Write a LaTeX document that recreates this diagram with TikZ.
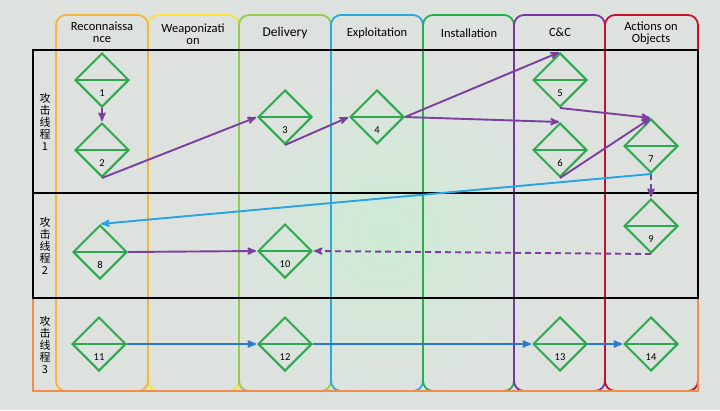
\documentclass[tikz,border=0pt]{standalone}
\usepackage{fontspec}
\newfontfamily\headfont{Carlito}
\newfontfamily\cjk{Noto Sans CJK SC}
\usetikzlibrary{shapes.geometric, positioning, arrows}
\definecolor{bgcol}{HTML}{DEE2DF}
\definecolor{glowcol}{HTML}{CDEBD4}
\definecolor{reccol}{HTML}{F5B63A}
\definecolor{weapcol}{HTML}{F6E43C}
\definecolor{delcol}{HTML}{93CD4F}
\definecolor{expcol}{HTML}{27A9E1}
\definecolor{instcol}{HTML}{23B04D}
\definecolor{cnccol}{HTML}{7A35A4}
\definecolor{actcol}{HTML}{C8102E}
\definecolor{row3col}{HTML}{F28C4E}
\definecolor{diacol}{HTML}{2EA84E}
\definecolor{flowpurple}{HTML}{7B3FA0}
\definecolor{flowsky}{HTML}{2AA3E6}
\definecolor{flowblue}{HTML}{2A78CF}

\begin{document}
\begin{tikzpicture}[x=1pt,y=-1pt,>=stealth',node distance=70pt,on grid,
    lane/.style={line width=1.8pt,rounded corners=10pt},
    head/.style={font=\headfont\fontsize{12.5}{12.5}\selectfont,align=center,inner sep=0pt},
    thread/.style={font=\cjk\fontsize{11}{12}\selectfont,align=center,inner sep=0pt},
    numtxt/.style={font=\headfont\fontsize{10.5}{11}\selectfont,yshift=-13pt,inner sep=0pt},
    phase/.style={diamond,draw=diacol,line width=2pt,minimum size=54pt,inner sep=0pt,
      path picture={\draw[diacol,line width=2pt] (path picture bounding box.west) -- (path picture bounding box.east);},
      label={[numtxt]center:#1}},
    flow/.style={->,line width=1.9pt,shorten >=1pt},
    back/.style={flow,dash pattern=on 6pt off 4pt}]

  % background
  \useasboundingbox (0,0) rectangle (720,410);
  \fill[bgcol] (0,0) rectangle (720,410);
  \shade[inner color=glowcol,outer color=bgcol] (385,235) circle (170);

  % lanes
  \foreach \l/\r/\c in {148/239/weapcol,56/148/reccol,239/331/delcol,331/423/expcol,
                        423/514/instcol,514/605/cnccol,605/698/actcol}
    \draw[lane,\c] (\l,15) rectangle (\r,391);

  \node[head] (hrec) at (102,32) {Reconnaissa\\nce};
  \node[head] (hweap) at (193,34) {Weaponizati\\on};
  \node[head,font=\headfont\fontsize{13.5}{13.5}\selectfont] (hdel) at (285,33) {Delivery};
  \node[head] (hexp) at (377,33) {Exploitation};
  \node[head] (hinst) at (469,33) {Installation};
  \node[head] (hcnc) at (560,32) {C\&C};
  \node[head] (hact) at (651,33) {Actions on\\Objects};

  % attack threads
  \draw[row3col,line width=1.9pt] (33,298) rectangle (698,391);
  \draw[line width=1.9pt] (33,50) rectangle (698,193);
  \draw[line width=1.9pt] (33,193) rectangle (698,298);

  \node[thread] (t1) at (45,121.5) {攻\\击\\线\\程\\1};
  \node[thread] (t2) at (45,245.5) {攻\\击\\线\\程\\2};
  \node[thread] (t3) at (45,344.5) {攻\\击\\线\\程\\3};

  % phases
  \node[phase=1] (d1) at (102,80) {};
  \node[phase=2] (d2) [below=of d1] {};
  \node[phase=3] (d3) at (285,117) {};
  \node[phase=4] (d4) at (377,117) {};
  \node[phase=5] (d5) at (560,80) {};
  \node[phase=6] (d6) [below=of d5] {};
  \node[phase=7] (d7) at (651,146) {};
  \node[phase=9] (d9) at (651,226) {};
  \node[phase=8] (d8) at (100,252) {};
  \node[phase=10] (d10) at (285,251) {};
  \node[phase=11] (d11) at (99,344) {};
  \node[phase=12] (d12) at (285,344) {};
  \node[phase=13] (d13) at (560,344) {};
  \node[phase=14] (d14) at (651,344) {};

  \path[flow,flowpurple]
    (d1.south) edge (d2.north)
    (d2.south) edge (d3.west)
    (d3.south) edge (d4.west)
    (d4.east) edge (d5.north)
              edge (d6.north)
    (d5.south) edge (d7.north)
    (d6.south) edge (d7.north)
    (d8.east) edge (d10.west);
  \path[back,flowpurple]
    (d7.south) edge (d9.north)
    (d9.south) edge (d10.east);
  \draw[flow,flowsky] (d7.south) -- (d8.north);
  \path[flow,flowblue]
    (d11.east) edge (d12.west)
    (d12.east) edge (d13.west)
    (d13.east) edge (d14.west);
\end{tikzpicture}
\end{document}
